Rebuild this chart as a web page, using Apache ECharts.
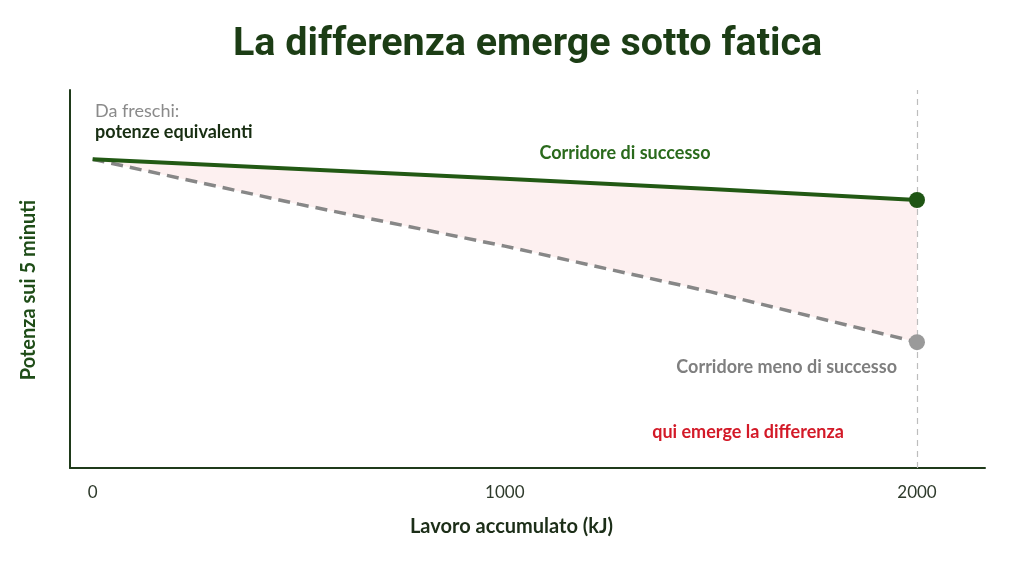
<!DOCTYPE html>
<html>
<head>
<meta charset="utf-8">
<script src="https://cdn.jsdelivr.net/npm/echarts@6/dist/echarts.min.js"></script>
<style>
  html, body { margin: 0; padding: 0; background: #fff; }
  #chart { width: 1024px; height: 576px; }
</style>
</head>
<body>
<div id="chart"></div>
<script>
// lavoro accumulato (kJ)
const work = [0, 500, 1000, 1500, 2000];
// potenza relativa (scala arbitraria, nessuna etichetta sull'asse y)
const successful = [81.7, 79.1, 76.5, 73.8, 70.9];
const lessSuccessful = [81.7, 69.8, 58.7, 46.6, 33.3];
const xTicks = [0, 1000, 2000];

const green = '#225914';
const grey = '#878787';

const chart = echarts.init(document.getElementById('chart'));

const pair = (xs, ys) => xs.map((x, i) => [x, ys[i]]);
const last = work.length - 1;

// area rosa tra le due curve, disegnata con le scale degli assi
function renderBand(params, api) {
    if (params.dataIndex !== 0) return;
    const top = work.map((x, i) => api.coord([x, successful[i]]));
    const bottom = work.map((x, i) => api.coord([x, lessSuccessful[i]])).reverse();
    return {
        type: 'polygon',
        shape: { points: top.concat(bottom) },
        style: { fill: '#fdf0f0' },
        silent: true
    };
}

const labelFont = { fontFamily: 'Lato', fontWeight: 'bold', fontSize: 18 };

chart.setOption({
    backgroundColor: '#fff',
    animation: false,
    title: {
        text: 'La differenza emerge sotto fatica',
        left: 228,
        top: 20,
        textStyle: { fontFamily: 'Roboto', fontWeight: 'bold', fontSize: 39.5, color: '#1c3d15' }
    },
    grid: { left: 70, right: 39, top: 90, bottom: 108 },
    xAxis: {
        type: 'value',
        min: -55,
        max: 2165,
        name: 'Lavoro accumulato (kJ)',
        nameLocation: 'middle',
        nameGap: 49,
        nameTextStyle: { fontFamily: 'Lato', fontWeight: 'bold', fontSize: 20, color: '#1c2e18', padding: [0, 32, 0, 0] },
        axisLine: { onZero: false, lineStyle: { color: '#1f3a1a', width: 2 } },
        axisTick: { show: false },
        splitLine: { show: false },
        axisLabel: {
            customValues: xTicks,
            formatter: v => String(v),
            margin: 16,
            fontFamily: 'Lato',
            fontSize: 17,
            color: '#2e3a2b'
        }
    },
    yAxis: {
        type: 'value',
        min: 0,
        max: 100,
        name: 'Potenza sui 5 minuti',
        nameLocation: 'middle',
        nameGap: 31,
        nameTextStyle: { fontFamily: 'Lato', fontWeight: 'bold', fontSize: 20, color: '#1f4d18', padding: [0, 22, 0, 0] },
        axisLine: { show: true, onZero: false, lineStyle: { color: '#1f3a1a', width: 2 } },
        axisTick: { show: false },
        axisLabel: { show: false },
        splitLine: { show: false }
    },
    series: [
        {
            name: 'banda',
            type: 'custom',
            renderItem: renderBand,
            data: pair(work, successful),
            silent: true,
            z: 1,
            markLine: {
                silent: true,
                symbol: 'none',
                label: { show: false },
                lineStyle: { color: '#bdbdbd', type: [6, 5], width: 1.2 },
                data: [{ xAxis: 2000 }]
            }
        },
        {
            name: 'Corridore meno di successo',
            type: 'line',
            data: pair(work, lessSuccessful),
            symbol: 'none',
            lineStyle: { color: grey, width: 3.5, type: [12, 7] },
            z: 3
        },
        {
            name: 'Corridore di successo',
            type: 'line',
            data: pair(work, successful),
            symbol: 'none',
            lineStyle: { color: green, width: 4 },
            z: 4
        },
        {
            name: 'punti finali',
            type: 'scatter',
            symbolSize: 16,
            data: [
                { value: [work[last], successful[last]], itemStyle: { color: '#1f5514', opacity: 1 } },
                { value: [work[last], lessSuccessful[last]], itemStyle: { color: '#9a9a9a', opacity: 1 } }
            ],
            z: 5
        }
    ],
    graphic: [
        { type: 'text', z: 100, style: Object.assign({ x: 95, y: 111, text: 'Da freschi:', fill: '#8a8a8a', textVerticalAlign: 'middle' }, labelFont, { fontWeight: 'normal' }) },
        { type: 'text', z: 100, style: Object.assign({ x: 95, y: 132, text: 'potenze equivalenti', fill: '#182e12', textVerticalAlign: 'middle' }, labelFont) },
        { type: 'text', z: 100, style: Object.assign({ x: 625, y: 153, text: 'Corridore di successo', fill: '#2a6a1c', textAlign: 'center', textVerticalAlign: 'middle' }, labelFont) },
        { type: 'text', z: 100, style: Object.assign({ x: 897, y: 367, text: 'Corridore meno di successo', fill: '#7f7f7f', textAlign: 'right', textVerticalAlign: 'middle' }, labelFont) },
        { type: 'text', z: 100, style: Object.assign({ x: 748, y: 432, text: 'qui emerge la differenza', fill: '#d31a28', textAlign: 'center', textVerticalAlign: 'middle' }, labelFont) }
    ]
});

window.addEventListener('resize', () => chart.resize());
</script>
</body>
</html>
